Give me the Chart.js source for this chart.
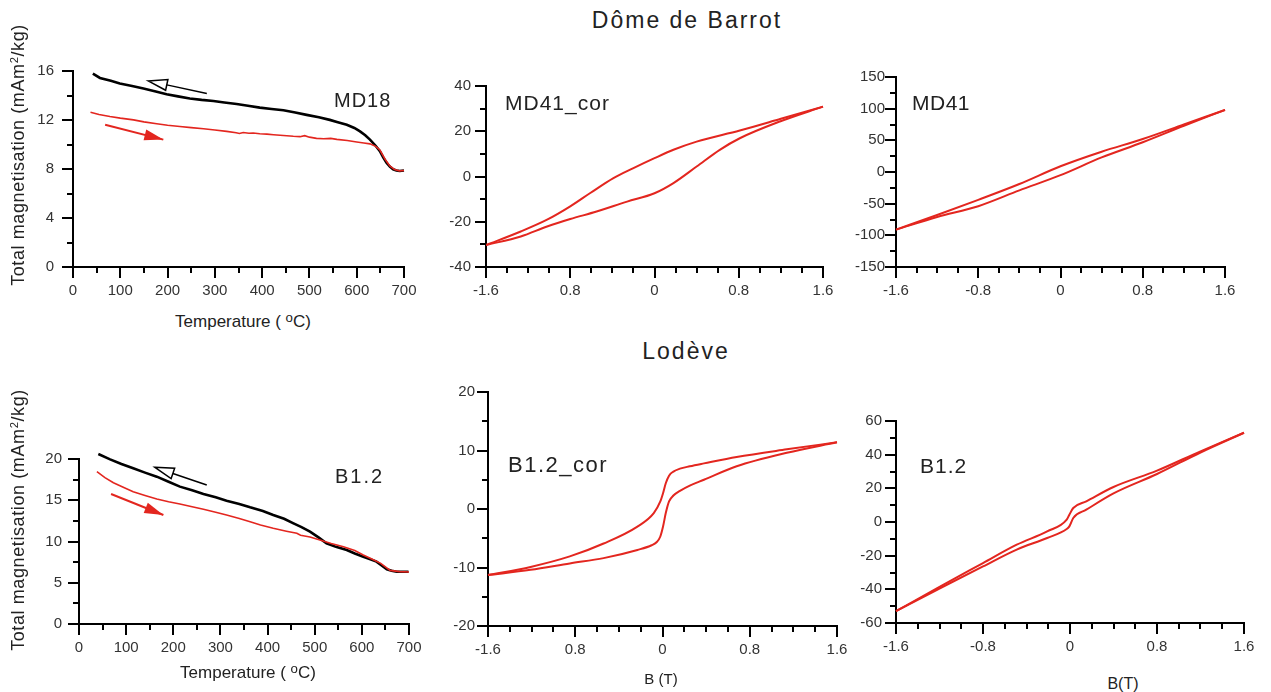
<!DOCTYPE html>
<html>
<head>
<meta charset="utf-8">
<script src="https://cdn.jsdelivr.net/npm/chart.js@4.4.1/dist/chart.umd.min.js"></script>
<style>
  html, body { margin: 0; padding: 0; background: #fff; }
  body { width: 1271px; height: 692px; position: relative; overflow: hidden;
         font-family: "Liberation Sans", Arial, sans-serif; color: #222; }
  canvas { position: absolute; }
  .t { position: absolute; white-space: nowrap; line-height: 1; }
  .c { transform: translateX(-50%); }
  .rot { transform: translate(-50%, -50%) rotate(-90deg); }
  sup { font-size: 0.62em; vertical-align: 0.5em; line-height: 0; }
  sup.o { font-size: 0.78em; vertical-align: 0.35em; }
</style>
</head>
<body>

<canvas id="md18"></canvas>
<canvas id="md41cor"></canvas>
<canvas id="md41"></canvas>
<canvas id="b12t"></canvas>
<canvas id="b12cor"></canvas>
<canvas id="b12"></canvas>

<div class="t c" style="left:687px; top:9px; font-size:23px; letter-spacing:2px;">Dôme de Barrot</div>
<div class="t c" style="left:686px; top:340px; font-size:23px; letter-spacing:2px;">Lodève</div>

<div class="t rot" style="left:18px; top:155px; font-size:18px; letter-spacing:0.6px;">Total magnetisation (mAm<sup>2</sup>/kg)</div>
<div class="t rot" style="left:18px; top:520px; font-size:18px; letter-spacing:0.6px;">Total magnetisation (mAm<sup>2</sup>/kg)</div>

<div class="t c" style="left:243px; top:313px; font-size:17px;">Temperature ( <sup class="o">o</sup>C)</div>
<div class="t c" style="left:248px; top:664px; font-size:17px;">Temperature ( <sup class="o">o</sup>C)</div>
<div class="t c" style="left:661px; top:671px; font-size:15px;">B (T)</div>
<div class="t c" style="left:1123px; top:676px; font-size:16px;">B(T)</div>

<div class="t" style="left:334px; top:90px; font-size:20px; letter-spacing:1px;">MD18</div>
<div class="t" style="left:505px; top:92px; font-size:21px; letter-spacing:1px;">MD41_cor</div>
<div class="t" style="left:912px; top:92px; font-size:21px; letter-spacing:0.5px;">MD41</div>
<div class="t" style="left:335px; top:466px; font-size:20px; letter-spacing:2px;">B1.2</div>
<div class="t" style="left:508px; top:454px; font-size:22px; letter-spacing:1.5px;">B1.2_cor</div>
<div class="t" style="left:920px; top:455px; font-size:21px; letter-spacing:1px;">B1.2</div>

<script>
// --- tick values and labels ---
const tempTicks = [0, 100, 200, 300, 400, 500, 600, 700];
const md18MagTicks = [0, 4, 8, 12, 16];
const b12MagTicks = [0, 5, 10, 15, 20];
const fieldTicks = [-1.6, -0.8, 0, 0.8, 1.6];
const fieldLabelsCor = ['-1.6', '0.8', '0', '0.8', '1.6'];
const fieldLabels = ['-1.6', '-0.8', '0', '0.8', '1.6'];
const md41CorTicks = [-40, -20, 0, 20, 40];
const md41Ticks = [-150, -100, -50, 0, 50, 100, 150];
const b12CorTicks = [-20, -10, 0, 10, 20];
const b12Ticks = [-60, -40, -20, 0, 20, 40, 60];

// --- MD18 thermomagnetic curve (Dôme de Barrot) ---
const md18HeatT = [37, 55, 78, 100, 128, 150, 177, 200, 226, 250, 276, 300, 325, 345, 352, 360, 372, 381, 395, 410, 424, 445, 466, 480, 490, 500, 515, 530, 545, 558, 580, 600, 615, 628, 640, 649, 660, 670, 680, 690, 700];
const md18HeatM = [12.63, 12.45, 12.28, 12.15, 12.01, 11.85, 11.69, 11.57, 11.47, 11.38, 11.29, 11.18, 11.07, 10.96, 10.9, 10.98, 10.92, 10.94, 10.88, 10.85, 10.80, 10.74, 10.67, 10.64, 10.72, 10.6, 10.5, 10.47, 10.5, 10.42, 10.32, 10.21, 10.12, 10.05, 9.85, 9.55, 8.8, 8.25, 7.95, 7.85, 7.88];
const md18CoolT = [42, 57, 80, 99, 125, 149, 175, 198, 222, 247, 272, 297, 320, 346, 370, 395, 420, 445, 470, 494, 520, 543, 560, 579, 595, 607, 618, 628, 640, 649, 656, 663, 670, 677, 684, 691, 700];
const md18CoolM = [15.78, 15.43, 15.2, 14.98, 14.78, 14.57, 14.33, 14.11, 13.93, 13.76, 13.64, 13.55, 13.43, 13.31, 13.17, 13.01, 12.9, 12.79, 12.62, 12.42, 12.22, 12.01, 11.82, 11.61, 11.35, 11.07, 10.75, 10.40, 9.9, 9.45, 8.95, 8.51, 8.2, 7.98, 7.88, 7.84, 7.88];
const md18CoolArrow = [[283, 14.17], [159, 15.19]];
const md18HeatArrow = [[68, 11.61], [191, 10.40]];

// --- MD41 hysteresis loops ---
const md41CorUpB = [-1.6, -1.27, -1.02, -0.8, -0.61, -0.39, -0.2, 0.0, 0.18, 0.4, 0.81, 1.2, 1.6];
const md41CorUpM = [-30.3, -24.3, -19.1, -13.2, -7.3, -0.7, 3.7, 8.1, 11.8, 15.4, 20.3, 25.5, 30.9];
const md41CorLoB = [-1.6, -1.27, -1.02, -0.8, -0.55, -0.26, 0.0, 0.18, 0.4, 0.62, 0.81, 1.19, 1.6];
const md41CorLoM = [-30.3, -26.5, -22.1, -18.8, -15.5, -11.1, -7.4, -2.9, 4.4, 11.8, 16.9, 24.3, 30.9];

const md41B = [-1.6, -1.2, -0.8, -0.4, 0, 0.4, 0.8, 1.2, 1.6];
const md41UpM = [-91, -68, -44, -19, 9, 32, 52, 75, 98];
const md41LoM = [-91, -71, -54, -29, -5, 23, 47, 73, 98];

// --- B1.2 thermomagnetic curve (Lodève) ---
const b12HeatT = [38, 55, 73, 95, 115, 140, 165, 190, 214, 240, 264, 290, 313, 340, 363, 385, 412, 440, 462, 470, 490, 511, 535, 561, 585, 603, 620, 640, 660, 680, 700];
const b12HeatM = [18.46, 17.75, 17.13, 16.55, 16.04, 15.58, 15.15, 14.82, 14.55, 14.22, 13.9, 13.55, 13.21, 12.8, 12.4, 12.0, 11.6, 11.25, 10.99, 10.75, 10.55, 10.18, 9.75, 9.37, 8.9, 8.36, 7.9, 7.35, 6.5, 6.35, 6.3];
const b12CoolT = [41, 66, 90, 115, 140, 165, 190, 214, 240, 264, 290, 313, 340, 363, 390, 412, 435, 455, 472, 490, 508, 525, 545, 568, 585, 603, 618, 631, 642, 653, 663, 674, 688, 699];
const b12CoolM = [20.6, 19.96, 19.4, 18.87, 18.35, 17.86, 17.25, 16.65, 16.2, 15.76, 15.35, 14.95, 14.55, 14.14, 13.7, 13.21, 12.75, 12.2, 11.75, 11.19, 10.5, 9.78, 9.35, 8.97, 8.55, 8.16, 7.85, 7.56, 7.1, 6.63, 6.45, 6.34, 6.33, 6.34];
const b12CoolArrow = [[271, 16.85], [161, 18.99]];
const b12HeatArrow = [[68, 15.76], [179, 13.21]];

// --- B1.2 hysteresis loops ---
const b12CorUpB = [-1.6, -1.21, -0.85, -0.54, -0.23, -0.08, -0.02, 0.005, 0.03, 0.06, 0.1, 0.16, 0.25, 0.38, 0.68, 1.14, 1.6];
const b12CorUpM = [-11.3, -9.9, -8.1, -5.9, -3.0, -0.7, 1.3, 2.7, 4.4, 5.7, 6.4, 6.9, 7.3, 7.8, 8.9, 10.2, 11.4];
const b12CorLoB = [-1.6, -1.21, -0.85, -0.54, -0.23, -0.1, -0.05, -0.02, 0.005, 0.03, 0.06, 0.1, 0.16, 0.25, 0.38, 0.68, 1.14, 1.6];
const b12CorLoM = [-11.3, -10.4, -9.3, -8.4, -7.0, -6.2, -5.6, -4.7, -3.0, -0.7, 1.3, 2.3, 3.1, 4.0, 5.0, 7.3, 9.6, 11.4];

const b12B = [-1.6, -1.2, -0.8, -0.49, -0.21, -0.03, -0.006, 0.03, 0.15, 0.4, 0.8, 1.2, 1.6];
const b12UpM = [-53, -38.5, -24.4, -13.5, -5.6, 1.4, 4.3, 8.3, 12.3, 20.8, 30.5, 42, 53];
const b12LoM = [-53, -39.5, -26.4, -16.4, -9.5, -4.2, -2.6, 2.4, 7.3, 17.0, 28.5, 41.3, 53];

const FONT = '"Liberation Sans", Arial, sans-serif';
const RED = '#e3261f';

function pts(xs, ys) {
    return xs.map((x, i) => ({ x: x, y: ys[i] }));
}

// evenly spaced minor tick positions, skipping the major ones
function minors(min, max, step, majorStep) {
    const out = [];
    for (let k = 0; min + k * step <= max + 1e-9; k++) {
        const v = +(min + k * step).toFixed(6);
        const r = Math.abs(v / majorStep - Math.round(v / majorStep));
        if (r > 1e-6) out.push(v);
    }
    return out;
}

const minorTicks = {
    id: 'minorTicks',
    afterDraw(chart, args, opts) {
        const ctx = chart.ctx;
        ctx.save();
        ctx.strokeStyle = '#000';
        ctx.lineWidth = 2;
        ['x', 'y'].forEach(id => {
            const s = chart.scales[id];
            (opts[id] || []).forEach(v => {
                const p = Math.round(s.getPixelForValue(v));
                ctx.beginPath();
                if (id === 'x') { ctx.moveTo(p, s.top); ctx.lineTo(p, s.top + 6); }
                else { ctx.moveTo(s.right, p); ctx.lineTo(s.right - 6, p); }
                ctx.stroke();
            });
        });
        ctx.restore();
    }
};

const arrows = {
    id: 'arrows',
    afterDatasetsDraw(chart, args, opts) {
        const { ctx, scales: { x, y } } = chart;
        (opts.list || []).forEach(a => {
            const x0 = x.getPixelForValue(a.path[0][0]), y0 = y.getPixelForValue(a.path[0][1]);
            const x1 = x.getPixelForValue(a.path[1][0]), y1 = y.getPixelForValue(a.path[1][1]);
            const ang = Math.atan2(y1 - y0, x1 - x0);
            const len = 19, half = 5.5;
            const bx = x1 - len * Math.cos(ang), by = y1 - len * Math.sin(ang);
            const px = -Math.sin(ang) * half, py = Math.cos(ang) * half;
            ctx.save();
            ctx.strokeStyle = a.color;
            ctx.fillStyle = a.color;
            ctx.lineWidth = a.open ? 1.5 : 2;
            ctx.beginPath();
            ctx.moveTo(x0, y0);
            ctx.lineTo(a.open ? bx : x1, a.open ? by : y1);
            ctx.stroke();
            ctx.beginPath();
            ctx.moveTo(x1, y1);
            ctx.lineTo(bx + px, by + py);
            ctx.lineTo(bx - px, by - py);
            ctx.closePath();
            if (a.open) ctx.stroke(); else ctx.fill();
            ctx.restore();
        });
    }
};

function axis(min, max, values, labels, opts) {
    return {
        type: 'linear',
        min: min,
        max: max,
        afterBuildTicks: s => { s.ticks = values.map(v => ({ value: v })); },
        afterFit: opts.fit,
        border: { display: true, color: '#000', width: 2 },
        grid: { drawOnChartArea: false, drawTicks: true, tickLength: 11, color: '#000', lineWidth: 2 },
        ticks: {
            autoSkip: false,
            maxRotation: 0,
            padding: opts.pad,
            color: '#333',
            font: { family: FONT, size: 15 },
            callback: (v, i) => labels[i]
        }
    };
}

// area = [left, top, right, bottom] of the plot box on the page
function panel(id, area, cfg) {
    const padTop = 15, padRight = 30, yW = 60, xH = 40;
    const canvas = document.getElementById(id);
    canvas.style.left = (area[0] - yW) + 'px';
    canvas.style.top = (area[1] - padTop) + 'px';
    canvas.width = area[2] - area[0] + yW + padRight;
    canvas.height = area[3] - area[1] + padTop + xH;

    new Chart(canvas, {
        type: 'scatter',
        data: { datasets: cfg.datasets },
        options: {
            responsive: false,
            devicePixelRatio: 1,
            animation: false,
            layout: { padding: { left: 0, top: padTop, right: padRight, bottom: 0 } },
            elements: { point: { radius: 0 } },
            scales: {
                x: axis(cfg.x[0], cfg.x[1], cfg.xTicks, cfg.xLabels, { pad: 4, fit: s => { s.height = xH; } }),
                y: axis(cfg.y[0], cfg.y[1], cfg.yTicks, cfg.yLabels, { pad: cfg.yPad, fit: s => { s.width = yW; } })
            },
            plugins: {
                legend: { display: false },
                tooltip: { enabled: false },
                minorTicks: cfg.minor,
                arrows: { list: cfg.arrows || [] }
            }
        },
        plugins: [minorTicks, arrows]
    });
}

function trace(data, color, width, smooth) {
    return {
        data: data,
        showLine: true,
        borderColor: color,
        borderWidth: width,
        pointRadius: 0,
        clip: 10,
        cubicInterpolationMode: smooth ? 'monotone' : 'default',
        tension: 0
    };
}

const str = a => a.map(String);

panel('md18', [73, 69, 404, 267], {
    x: [0, 700], xTicks: tempTicks, xLabels: str(tempTicks),
    y: [0, 16], yTicks: md18MagTicks, yLabels: str(md18MagTicks), yPad: 8,
    minor: { x: minors(0, 700, 50, 100), y: minors(0, 16, 2, 4) },
    datasets: [
        trace(pts(md18HeatT, md18HeatM), RED, 1.6, false),
        trace(pts(md18CoolT, md18CoolM), '#000', 2.6, false)
    ],
    arrows: [
        { path: md18CoolArrow, color: '#000', open: true },
        { path: md18HeatArrow, color: RED, open: false }
    ]
});

panel('md41cor', [486, 86, 823, 267], {
    x: [-1.6, 1.6], xTicks: fieldTicks, xLabels: fieldLabelsCor,
    y: [-40, 40], yTicks: md41CorTicks, yLabels: str(md41CorTicks), yPad: 4,
    minor: { x: minors(-1.6, 1.6, 0.2, 0.8), y: minors(-40, 40, 10, 20) },
    datasets: [
        trace(pts(md41CorUpB, md41CorUpM), RED, 2, true),
        trace(pts(md41CorLoB, md41CorLoM), RED, 2, true)
    ]
});

panel('md41', [896, 77, 1225, 267], {
    x: [-1.6, 1.6], xTicks: fieldTicks, xLabels: fieldLabels,
    y: [-150, 150], yTicks: md41Ticks, yLabels: str(md41Ticks), yPad: 0,
    minor: { x: minors(-1.6, 1.6, 0.2, 0.8), y: minors(-150, 150, 25, 50) },
    datasets: [
        trace(pts(md41B, md41UpM), RED, 2, true),
        trace(pts(md41B, md41LoM), RED, 2, true)
    ]
});

panel('b12t', [79, 459, 409, 624], {
    x: [0, 700], xTicks: tempTicks, xLabels: str(tempTicks),
    y: [0, 20], yTicks: b12MagTicks, yLabels: str(b12MagTicks), yPad: 6,
    minor: { x: minors(0, 700, 50, 100), y: minors(0, 20, 2.5, 5) },
    datasets: [
        trace(pts(b12HeatT, b12HeatM), RED, 1.6, false),
        trace(pts(b12CoolT, b12CoolM), '#000', 2.6, false)
    ],
    arrows: [
        { path: b12CoolArrow, color: '#000', open: true },
        { path: b12HeatArrow, color: RED, open: false }
    ]
});

panel('b12cor', [488, 392, 837, 626], {
    x: [-1.6, 1.6], xTicks: fieldTicks, xLabels: fieldLabelsCor,
    y: [-20, 20], yTicks: b12CorTicks, yLabels: str(b12CorTicks), yPad: 2,
    minor: { x: minors(-1.6, 1.6, 0.2, 0.8), y: minors(-20, 20, 5, 10) },
    datasets: [
        trace(pts(b12CorUpB, b12CorUpM), RED, 2, true),
        trace(pts(b12CorLoB, b12CorLoM), RED, 2, true)
    ]
});

panel('b12', [896, 421, 1244, 623], {
    x: [-1.6, 1.6], xTicks: fieldTicks, xLabels: fieldLabels,
    y: [-60, 60], yTicks: b12Ticks, yLabels: str(b12Ticks), yPad: 3,
    minor: { x: minors(-1.6, 1.6, 0.2, 0.8), y: minors(-60, 60, 10, 20) },
    datasets: [
        trace(pts(b12B, b12UpM), RED, 2, true),
        trace(pts(b12B, b12LoM), RED, 2, true)
    ]
});
</script>
</body>
</html>
